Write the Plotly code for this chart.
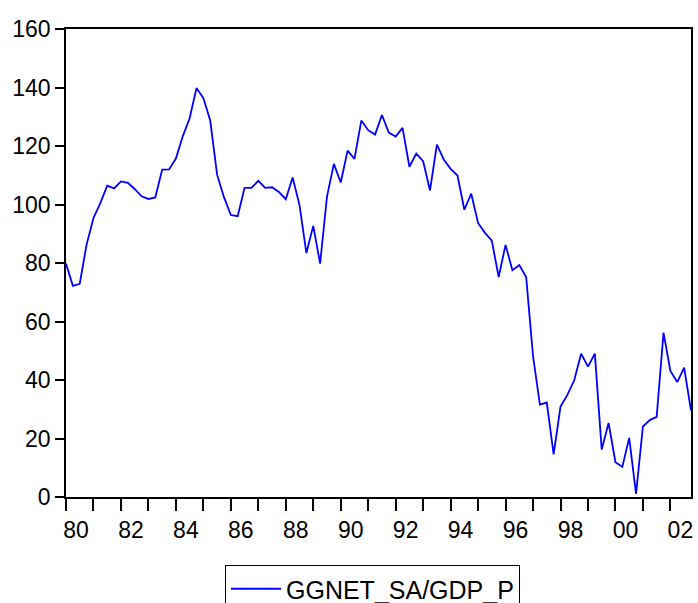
import plotly.graph_objects as go

# Quarterly ratio, 1980Q1 - 2002Q4
start_year = 1980
ratio = [
    79.8, 72.2, 72.9, 86.3,      # 1980
    95.4, 100.5, 106.4, 105.5,   # 1981
    107.9, 107.4, 105.3, 102.8,  # 1982
    101.9, 102.4, 111.9, 112.0,  # 1983
    115.7, 123.3, 129.5, 139.8,  # 1984
    136.4, 128.7, 110.2, 102.5,  # 1985
    96.4, 96.0, 105.7, 105.7,    # 1986
    108.1, 105.7, 105.9, 104.3,  # 1987
    101.8, 109.2, 99.8, 83.4,    # 1988
    92.7, 79.8, 102.7, 113.9,    # 1989
    107.5, 118.4, 115.6, 128.7,  # 1990
    125.4, 123.9, 130.6, 124.6,  # 1991
    123.2, 126.2, 112.9, 117.4,  # 1992
    114.8, 104.8, 120.5, 115.4,  # 1993
    112.2, 109.9, 98.2, 103.7,   # 1994
    93.7, 90.3, 87.6, 75.2,      # 1995
    86.2, 77.5, 79.3, 75.2,      # 1996
    48.2, 31.6, 32.3, 14.6,      # 1997
    30.9, 34.9, 39.9, 49.0,      # 1998
    44.6, 49.0, 16.2, 25.3,      # 1999
    11.9, 10.3, 20.2, 1.1,       # 2000
    24.1, 26.3, 27.4, 56.2,      # 2001
    43.1, 39.3, 44.2, 29.6,      # 2002
]
series_name = "GGNET_SA/GDP_P"

years = list(range(1980, 2003))
year_labels = [f"{y % 100:02d}" if y % 2 == 0 else "" for y in years]
y_ticks = [0, 20, 40, 60, 80, 100, 120, 140, 160]

t = [start_year + i / 4 for i in range(len(ratio))]

family = "Liberation Sans, Arial, sans-serif"

fig = go.Figure()
fig.add_trace(go.Scatter(
    x=t, y=ratio, mode="lines", name=series_name,
    line=dict(color="#0000FF", width=1.8),
    showlegend=True,
))

fig.update_layout(
    width=698, height=603,
    margin=dict(l=66, r=7, t=29, b=106, autoexpand=False),
    paper_bgcolor="white", plot_bgcolor="white",
    font=dict(family=family, size=23, color="black"),
    showlegend=True,
    legend=dict(
        xref="container", yref="container",
        x=225 / 698, y=1 - 565 / 603, xanchor="left", yanchor="top",
        bordercolor="black", borderwidth=1, bgcolor="white",
        font=dict(family=family, size=25, color="black"),
        itemwidth=50,
    ),
)

fig.update_xaxes(
    range=[start_year, start_year + (len(ratio) - 1) / 4],
    tickmode="array", tickvals=years, ticktext=year_labels,
    ticks="outside", ticklen=12, tickwidth=1.5, tickcolor="black",
    ticklabelshift=10,
    showline=True, linecolor="black", linewidth=1.5, mirror=True,
    showgrid=False, zeroline=False, automargin=False,
)
fig.update_yaxes(
    range=[0, 160],
    tickmode="array", tickvals=y_ticks,
    ticks="outside", ticklen=9, tickwidth=1.5, tickcolor="black",
    showline=True, linecolor="black", linewidth=1.5, mirror=True,
    showgrid=False, zeroline=False, automargin=False,
)

fig.write_html("out.html")
